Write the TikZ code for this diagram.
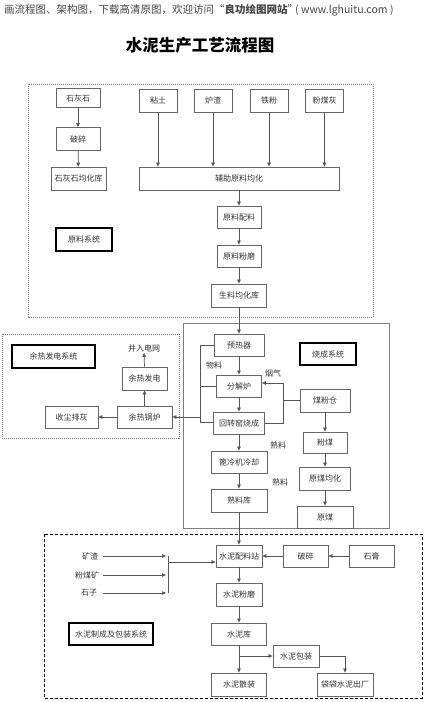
\documentclass[tikz,border=0pt]{standalone}
\usepackage{fontspec}
\setmainfont{Noto Sans CJK SC}
\usetikzlibrary{arrows.meta}
\definecolor{boxc}{HTML}{666666}
\definecolor{linec}{HTML}{555555}
\definecolor{txt}{HTML}{333333}
\definecolor{hdr}{HTML}{444444}
\begin{document}
\begin{tikzpicture}[x=1pt,y=-1pt,
  font=\fontsize{8}{9}\selectfont,
  box/.style={draw=boxc, line width=0.8pt, fill=white, inner sep=0pt, text=txt},
  sysbox/.style={draw=black, line width=1.5pt, fill=white, inner sep=0pt, text=txt},
  arr/.style={draw=linec, line width=0.7pt, -{Triangle[length=4pt,width=3.5pt]}},
  ln/.style={draw=linec, line width=0.7pt},
  lbl/.style={inner sep=1pt, text=txt},
  dotframe/.style={draw=gray, line width=0.7pt, dash pattern=on 1pt off 1pt},
  solidframe/.style={draw=gray, line width=0.7pt},
  dashframe/.style={draw=black, line width=1pt, dash pattern=on 3pt off 2pt}]
\fill[white] (0,0) rectangle (424,702);
\useasboundingbox (0,0) rectangle (424,702);

% header and title
\node[anchor=west, inner sep=0pt, text=hdr, font=\fontsize{10.5}{12}\selectfont] (hdr) at (4,10)
  {画流程图、架构图，下载高清原图，欢迎访问“\textbf{良功绘图网站}”\kern-3pt( www.lghuitu.com )};
\node[inner sep=0pt, text=black, font=\fontsize{16.5}{18}\selectfont\bfseries] (title) at (200,45) {水泥生产工艺流程图};

% frames
\draw[dotframe] (28,84) rectangle (373,317);
\draw[solidframe] (183,323) rectangle (389,528);
\draw[dotframe] (2,334) rectangle (179,438);
\draw[dashframe] (44,534) rectangle (422,698);

% raw material system
\node[box, minimum width=44, minimum height=19] (shs) at (78,98) {石灰石};
\node[box, minimum width=44, minimum height=23] (ps1) at (78,139) {破碎};
\node[box, minimum width=55, minimum height=23] (shk) at (78.5,178.5) {石灰石均化库};
\node[box, minimum width=38, minimum height=23] (nt) at (158,100.5) {粘土};
\node[box, minimum width=38, minimum height=23] (lz) at (213,100.5) {炉渣};
\node[box, minimum width=38, minimum height=23] (tf) at (269,100.5) {铁粉};
\node[box, minimum width=38, minimum height=23] (fmh) at (324.5,100.5) {粉煤灰};
\node[box, minimum width=200, minimum height=23] (fz) at (239,178.5) {辅助原料均化};
\node[box, minimum width=44, minimum height=22] (ylpl) at (239,217) {原料配料};
\node[box, minimum width=44, minimum height=22] (ylfm) at (239,256) {原料粉磨};
\node[box, minimum width=55, minimum height=23] (sljh) at (239,295.5) {生料均化库};
\node[sysbox, minimum width=56, minimum height=23] (ylxt) at (84,239.5) {原料系统};

\draw[arr] (shs) -- (ps1);
\draw[arr] (ps1) -- (shk);
\foreach \n in {nt,lz,tf,fmh} \draw[arr] (\n.south) -- (\n.south |- fz.north);
\draw[arr] (fz.south) -- (ylpl.north);
\draw[arr] (ylpl) -- (ylfm);
\draw[arr] (ylfm) -- (sljh);

% burning system
\node[box, minimum width=50, minimum height=22] (yrq) at (239,345) {预热器};
\node[box, minimum width=45, minimum height=22] (fjl) at (239,386) {分解炉};
\node[box, minimum width=51, minimum height=22] (hzy) at (239,423) {回转窑烧成};
\node[box, minimum width=56, minimum height=22] (blj) at (239,462) {篦冷机冷却};
\node[box, minimum width=56, minimum height=23] (slk) at (239,500.5) {熟料库};
\node[sysbox, minimum width=56, minimum height=22] (scxt) at (328,354) {烧成系统};
\node[box, minimum width=50, minimum height=23] (mfc) at (325,400.5) {煤粉仓};
\node[box, minimum width=44, minimum height=21] (fm) at (325,442.5) {粉煤};
\node[box, minimum width=51, minimum height=23] (ymjh) at (325,478.5) {原煤均化};
\node[box, minimum width=56, minimum height=22] (ym) at (325,517) {原煤};
\node[lbl] (wl1) at (214,365) {物料};
\node[lbl] (yq) at (273,373) {烟气};
\node[lbl] (sl1) at (278,445) {熟料};
\node[lbl] (sl2) at (280,482) {熟料};
\coordinate (wl) at (200,0);
\coordinate (yl) at (283,0);

\draw[arr] (sljh) -- (yrq);
\draw[arr] (yrq) -- (fjl);
\draw[arr] (fjl) -- (hzy);
\draw[arr] (hzy) -- (blj);
\draw[arr] (blj) -- (slk);
\draw[ln] (yrq.west) -- (yrq.west -| wl) |- ([yshift=1pt]hzy.west);
\draw[ln] (fjl.west) -- (fjl.west -| wl);
\draw[arr] (mfc.west) -- (mfc.west -| yl) |- ([yshift=3pt]fjl.east);
\draw[ln] (hzy.east) -| (yl |- mfc.west);
\draw[arr] (mfc) -- (fm);
\draw[arr] (fm) -- (ymjh);
\draw[arr] (ymjh) -- (ym);

% waste heat system
\node[sysbox, minimum width=83, minimum height=23] (yrxt) at (53.5,356.5) {余热发电系统};
\node[lbl] (bw) at (144,348) {并入电网};
\node[box, minimum width=45, minimum height=23] (yrfd) at (144.5,378.5) {余热发电};
\node[box, minimum width=55, minimum height=22] (ygl) at (144.5,417) {余热锅炉};
\node[box, minimum width=53, minimum height=22] (scph) at (71.5,417) {收尘排灰};
\draw[arr] (wl |- ygl.east) -- (ygl.east);
\draw[arr] (ygl) -- (yrfd);
\draw[arr] (yrfd.north) -- (bw.south);
\draw[arr] (ygl) -- (scph);

% cement system
\node[box, minimum width=46, minimum height=22] (pl) at (239,556) {水泥配料站};
\node[box, minimum width=45, minimum height=22] (ps2) at (305.5,556) {破碎};
\node[box, minimum width=45, minimum height=22] (sg) at (371.5,556) {石膏};
\node[box, minimum width=46, minimum height=23] (snfm) at (239,594.5) {水泥粉磨};
\node[box, minimum width=55, minimum height=22] (snk) at (239,634) {水泥库};
\node[box, minimum width=46, minimum height=22] (snbz) at (296,656) {水泥包装};
\node[box, minimum width=55, minimum height=23] (snsz) at (239,684.5) {水泥散装};
\node[box, minimum width=56, minimum height=23] (ddcc) at (345,684.5) {袋袋水泥出厂};
\node[sysbox, minimum width=84, minimum height=22] (snxt) at (111,634) {水泥制成及包装系统};
\node[lbl] (kz) at (90,556) {矿渣};
\node[lbl] (fmk) at (87,575) {粉煤矿};
\node[lbl] (sz) at (89,593) {石子};
\coordinate (jn) at (168,0);
\coordinate (ls) at (103,0);
\coordinate (plin) at ([yshift=-6pt]pl.west);

\draw[arr] (slk) -- (pl);
\draw[arr] (sg) -- (ps2);
\draw[arr] (ps2) -- (pl);
\draw[arr] (pl) -- (snfm);
\draw[arr] (snfm) -- (snk);
\draw[arr] (snk) -- (snsz);
\draw[arr] (snk.south |- snbz.west) -- (snbz.west);
\draw[arr] (snbz.east) -| (ddcc.north);
\foreach \n in {kz, fmk, sz}
  \draw[arr] (ls |- \n.east) -- ([xshift=-2pt]jn |- \n.east);
\draw[ln] (jn |- kz.east) -- (jn |- sz.east);
\draw[arr] (jn |- plin) -- (plin);
\end{tikzpicture}
\end{document}
